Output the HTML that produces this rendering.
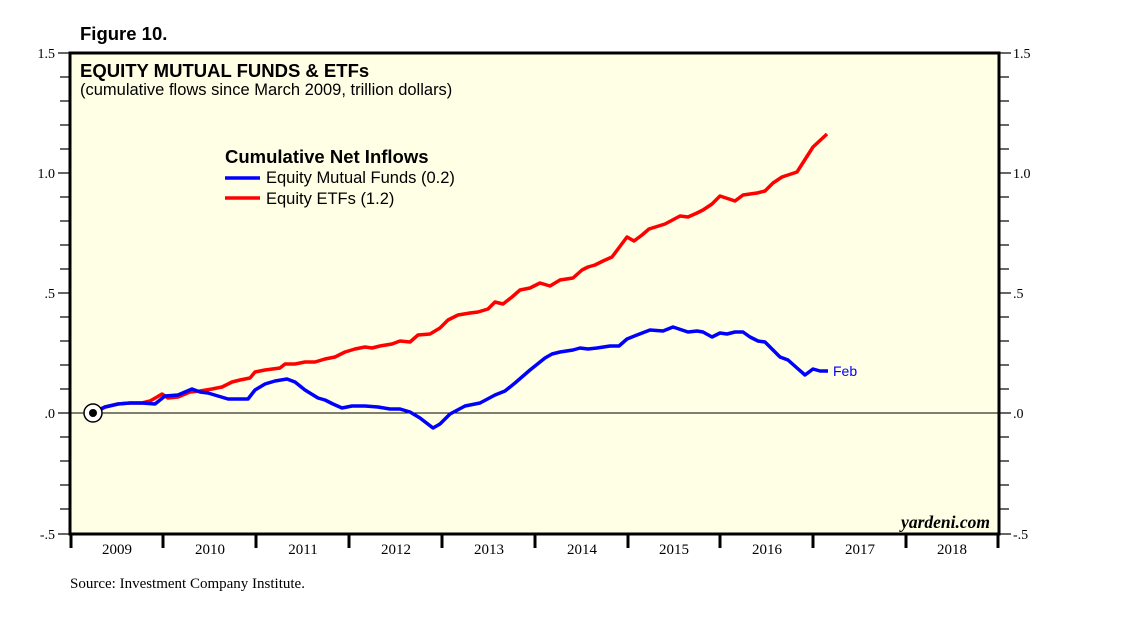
<!DOCTYPE html>
<html><head><meta charset="utf-8"><style>
body{margin:0;background:#fff;}
svg{display:block;}
</style></head><body>
<svg width="1138" height="623" viewBox="0 0 1138 623" xmlns="http://www.w3.org/2000/svg">
<rect x="70" y="53" width="929" height="481" fill="#ffffe5" stroke="#000" stroke-width="3"/>
<line x1="70" y1="413" x2="999" y2="413" stroke="#000" stroke-width="1"/>
<g stroke="#000" stroke-width="1.2">
<line x1="58" y1="53" x2="70" y2="53"/><line x1="60" y1="77" x2="70" y2="77"/><line x1="60" y1="101" x2="70" y2="101"/><line x1="60" y1="125" x2="70" y2="125"/><line x1="60" y1="149" x2="70" y2="149"/><line x1="58" y1="173" x2="70" y2="173"/><line x1="60" y1="197" x2="70" y2="197"/><line x1="60" y1="221" x2="70" y2="221"/><line x1="60" y1="245" x2="70" y2="245"/><line x1="60" y1="269" x2="70" y2="269"/><line x1="58" y1="293" x2="70" y2="293"/><line x1="60" y1="317" x2="70" y2="317"/><line x1="60" y1="341" x2="70" y2="341"/><line x1="60" y1="365" x2="70" y2="365"/><line x1="60" y1="389" x2="70" y2="389"/><line x1="58" y1="413" x2="70" y2="413"/><line x1="60" y1="437" x2="70" y2="437"/><line x1="60" y1="461" x2="70" y2="461"/><line x1="60" y1="485" x2="70" y2="485"/><line x1="60" y1="509" x2="70" y2="509"/><line x1="58" y1="534" x2="70" y2="534"/>
<line x1="999" y1="53" x2="1011" y2="53"/><line x1="999" y1="77" x2="1009" y2="77"/><line x1="999" y1="101" x2="1009" y2="101"/><line x1="999" y1="125" x2="1009" y2="125"/><line x1="999" y1="149" x2="1009" y2="149"/><line x1="999" y1="173" x2="1011" y2="173"/><line x1="999" y1="197" x2="1009" y2="197"/><line x1="999" y1="221" x2="1009" y2="221"/><line x1="999" y1="245" x2="1009" y2="245"/><line x1="999" y1="269" x2="1009" y2="269"/><line x1="999" y1="293" x2="1011" y2="293"/><line x1="999" y1="317" x2="1009" y2="317"/><line x1="999" y1="341" x2="1009" y2="341"/><line x1="999" y1="365" x2="1009" y2="365"/><line x1="999" y1="389" x2="1009" y2="389"/><line x1="999" y1="413" x2="1011" y2="413"/><line x1="999" y1="437" x2="1009" y2="437"/><line x1="999" y1="461" x2="1009" y2="461"/><line x1="999" y1="485" x2="1009" y2="485"/><line x1="999" y1="509" x2="1009" y2="509"/><line x1="999" y1="534" x2="1011" y2="534"/>
</g>
<g stroke="#000" stroke-width="3">
<line x1="71" y1="534" x2="71" y2="548"/><line x1="163" y1="534" x2="163" y2="548"/><line x1="256" y1="534" x2="256" y2="548"/><line x1="349" y1="534" x2="349" y2="548"/><line x1="442" y1="534" x2="442" y2="548"/><line x1="535" y1="534" x2="535" y2="548"/><line x1="628" y1="534" x2="628" y2="548"/><line x1="720" y1="534" x2="720" y2="548"/><line x1="813" y1="534" x2="813" y2="548"/><line x1="906" y1="534" x2="906" y2="548"/><line x1="998" y1="534" x2="998" y2="548"/>
</g>
<g font-family="Liberation Serif, serif" font-size="14" fill="#000">
<text x="55" y="58" text-anchor="end">1.5</text><text x="55" y="178" text-anchor="end">1.0</text><text x="55" y="298" text-anchor="end">.5</text><text x="55" y="418" text-anchor="end">.0</text><text x="55" y="539" text-anchor="end">-.5</text>
<text x="1013" y="58">1.5</text><text x="1013" y="178">1.0</text><text x="1013" y="298">.5</text><text x="1013" y="418">.0</text><text x="1013" y="539">-.5</text>
<g text-anchor="middle" font-size="15"><text x="117" y="554">2009</text><text x="210" y="554">2010</text><text x="303" y="554">2011</text><text x="396" y="554">2012</text><text x="489" y="554">2013</text><text x="582" y="554">2014</text><text x="674" y="554">2015</text><text x="767" y="554">2016</text><text x="860" y="554">2017</text><text x="952" y="554">2018</text></g>
<text x="70" y="588" font-size="15">Source: Investment Company Institute.</text>
<text x="990" y="528" text-anchor="end" font-style="italic" font-weight="bold" font-size="17.5">yardeni.com</text>
</g>
<g font-family="Liberation Sans, sans-serif" fill="#000">
<text x="80" y="40" font-size="18.5" font-weight="bold">Figure 10.</text>
<text x="80" y="77" font-size="18.5" font-weight="bold">EQUITY MUTUAL FUNDS &amp; ETFs</text>
<text x="80" y="95" font-size="16.5">(cumulative flows since March 2009, trillion dollars)</text>
<text x="225" y="163" font-size="18.5" font-weight="bold">Cumulative Net Inflows</text>
<text x="266" y="183" font-size="16.5">Equity Mutual Funds (0.2)</text>
<text x="266" y="204" font-size="16.5">Equity ETFs (1.2)</text>
<text x="833" y="376" font-size="14" fill="#0000ff">Feb</text>
</g>
<line x1="225" y1="178" x2="260" y2="178" stroke="#0000ff" stroke-width="3.5"/>
<line x1="225" y1="198" x2="260" y2="198" stroke="#ff0000" stroke-width="3.5"/>
<polyline fill="none" stroke="#ff0000" stroke-width="3.5" stroke-linejoin="round" points="93,413 105,407 118,404 130,403 142,403 150,401 157,397 162,394 168,398 178,397 190,392 200,391 212,389 222,387 232,382 240,380 250,378 255,372 265,370 280,368 285,364 295,364 305,362 315,362 325,359 335,357 345,352 355,349 365,347 372,348 380,346 392,344 400,341 410,342 418,335 430,334 440,328 448,320 458,315 470,313 478,312 488,309 495,302 503,304 512,297 520,290 530,288 540,283 550,286 560,280 573,278 582,270 588,267 595,265 603,261 612,257 618,249 627,237 634,241 642,235 649,229 665,224 680,216 688,217 697,213 703,210 712,204 720,196 735,201 743,195 757,193 765,191 773,183 782,177 797,172 813,147 827,134"/>
<polyline fill="none" stroke="#0000ff" stroke-width="3.5" stroke-linejoin="round" points="93,413 105,407 118,404 130,403 142,403 155,404 165,396 178,395 192,389 200,392 208,393 218,396 228,399 240,399 248,399 255,390 265,384 275,381 287,379 295,382 305,390 318,398 325,400 333,404 342,408 352,406 365,406 378,407 390,409 400,409 410,412 420,418 433,428 440,424 450,414 465,406 480,403 495,395 505,391 515,383 530,370 545,358 552,354 560,352 573,350 580,348 588,349 597,348 610,346 619,346 627,339 637,335 650,330 663,331 673,327 688,332 697,331 703,332 712,337 720,333 727,334 735,332 743,332 750,337 758,341 765,342 773,350 780,357 788,360 797,368 805,375 813,369 820,371 828,371"/>
<circle cx="93" cy="413" r="9" fill="#fff" stroke="#000" stroke-width="1.5"/>
<circle cx="93" cy="413" r="4" fill="#000"/>
</svg>
</body></html>
